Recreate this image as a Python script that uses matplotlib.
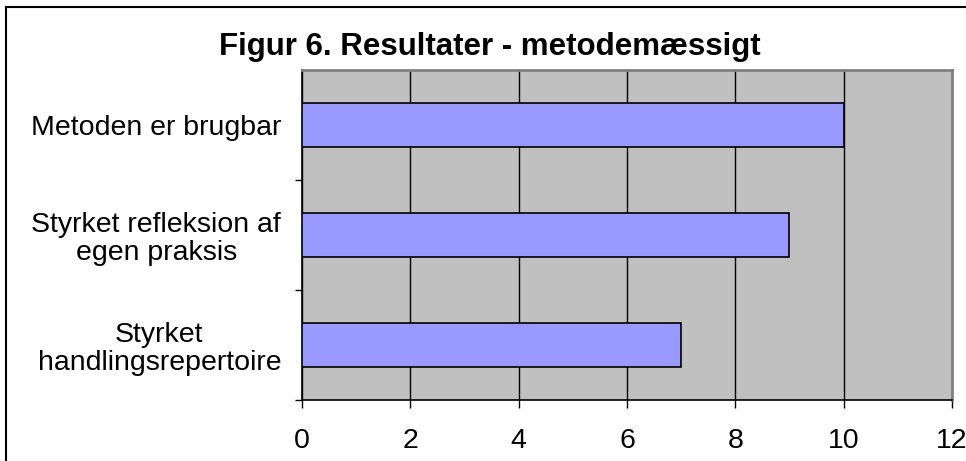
import matplotlib

matplotlib.use("Agg")
import matplotlib.pyplot as plt
from matplotlib.lines import Line2D
from matplotlib.ticker import FixedLocator

categories = [
    "Metoden er brugbar",
    "Styrket refleksion af\negen praksis",
    "Styrket\nhandlingsrepertoire",
]
values = [10, 9, 7]
x_ticks = [0, 2, 4, 6, 8, 10, 12]
title = "Figur 6. Resultater - metodemæssigt"

plt.rcParams["font.family"] = ["Liberation Sans", "DejaVu Sans"]

fig = plt.figure(figsize=(9.66, 4.61), dpi=100)
ax = fig.add_axes([302 / 966, 61 / 461, 650 / 966, 330 / 461])
ax.set_facecolor("#c0c0c0")

pos = list(range(len(categories)))[::-1]
ax.barh(pos, values, height=0.4, color="#9999ff", edgecolor="black", linewidth=1.2, zorder=3)

ax.set_xlim(0, 12)
ax.set_ylim(-0.5, len(categories) - 0.5)
ax.set_xticks(x_ticks)
ax.set_xticklabels([str(t) for t in x_ticks], fontsize=20.5)
ax.set_yticks(pos)
ax.set_yticklabels(categories, fontsize=20.5, linespacing=1.1)
for lbl in ax.get_yticklabels():
    lbl.set_multialignment("center")
ax.yaxis.set_minor_locator(FixedLocator([-0.5, 0.5, 1.5]))
ax.tick_params(axis="y", which="major", length=0, pad=15)
ax.tick_params(axis="y", which="minor", length=5, width=1, color="black")
ax.tick_params(axis="x", length=5.5, width=1, pad=15, color="black")

ax.xaxis.grid(True, color="black", linewidth=1)
ax.set_axisbelow(True)
for side in ("top", "right"):
    ax.spines[side].set_color("#808080")
    ax.spines[side].set_linewidth(2)
for side in ("left", "bottom"):
    ax.spines[side].set_color("black")
    ax.spines[side].set_linewidth(1.2)

fig.text(490 / 966, 1 - 47 / 461, title, ha="center", va="center",
         fontsize=22.5, fontweight="bold")

# outer chart frame (only left and top edges are visible in the crop)
fig.add_artist(Line2D([6 / 966, 6 / 966], [0, 1 - 7.5 / 461],
                      transform=fig.transFigure, color="black", linewidth=1.5))
fig.add_artist(Line2D([6 / 966, 1], [1 - 7.5 / 461, 1 - 7.5 / 461],
                      transform=fig.transFigure, color="black", linewidth=1.5))

fig.savefig("out.png", dpi=100)
